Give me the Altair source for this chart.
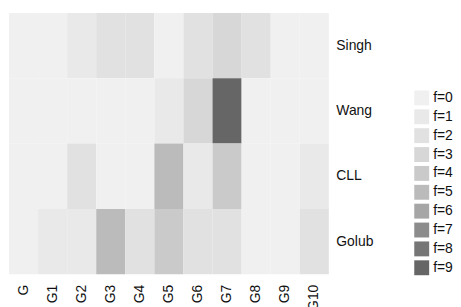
import altair as alt
import pandas as pd

cols = ["G", "G1", "G2", "G3", "G4", "G5", "G6", "G7", "G8", "G9", "G10"]
rows = ["Singh", "Wang", "CLL", "Golub"]
singh = [0, 0, 1, 2, 2, 0, 2, 3, 2, 0, 0]
wang = [0, 0, 0, 0, 0, 1, 3, 9, 0, 0, 0]
cll = [0, 0, 2, 0, 0, 5, 1, 4, 0, 0, 1]
golub = [0, 1, 1, 5, 2, 4, 2, 2, 0, 0, 2]
levels = ["f=%d" % i for i in range(10)]
grays = ["#f0f0f0", "#e9e9e9", "#e1e1e1", "#d7d7d7", "#cacaca",
         "#bbbbbb", "#a6a6a6", "#8c8c8c", "#767676", "#666666"]

recs = []
for r, vals in zip(rows, [singh, wang, cll, golub]):
    for c, v in zip(cols, vals):
        recs.append({"col": c, "row": r, "f": "f=%d" % v})
df = pd.DataFrame(recs)

FONT = "Liberation Sans"

chart = alt.Chart(df).mark_rect(strokeWidth=0).encode(
    x=alt.X("col:N", sort=cols, title=None,
            scale=alt.Scale(paddingInner=0, paddingOuter=0),
            axis=alt.Axis(labelAngle=270, domain=False, ticks=False, tickSize=0,
                          labelPadding=10, labelFontSize=14, labelFont=FONT,
                          labelColor="#111111")),
    y=alt.Y("row:N", sort=rows, title=None,
            scale=alt.Scale(paddingInner=0, paddingOuter=0),
            axis=alt.Axis(orient="right", domain=False, ticks=False, tickSize=0,
                          labelPadding=7, labelFontSize=14, labelFont=FONT,
                          labelColor="#111111")),
    color=alt.Color("f:N", scale=alt.Scale(domain=levels, range=grays),
                    legend=alt.Legend(title=None, orient="none", legendX=408, legendY=78,
                                      symbolType="square", symbolSize=225,
                                      symbolStrokeWidth=0, symbolOpacity=1,
                                      rowPadding=4, labelOffset=4,
                                      labelFontSize=14, labelFont=FONT,
                                      labelColor="#111111")),
).properties(
    width=322, height=263,
    padding={"left": 1, "top": 4, "right": 0, "bottom": 0},
).configure_view(stroke=None)

chart.save("out.html", embed_options={"renderer": "svg", "actions": False})
